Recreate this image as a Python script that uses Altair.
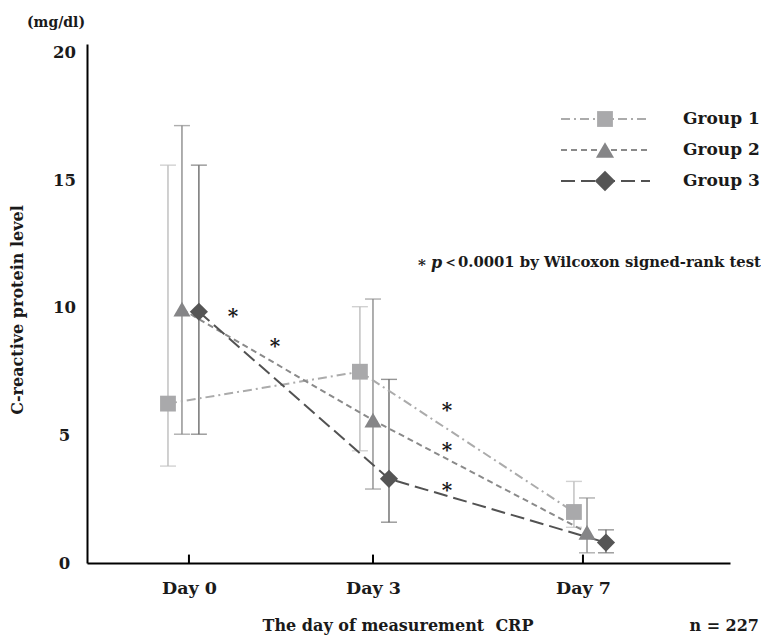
import altair as alt
import pandas as pd

# ---------------- data ----------------
days = ["Day 0", "Day 3", "Day 7"]
day_slot = [0.0, 1.0, 2.141]          # where each day sits on the axis
groups = ["Group 1", "Group 2", "Group 3"]

# dodged x position of each group's marker (in day-slot units)
x_g1 = [-0.114, 0.929, 2.092]
x_g2 = [-0.038, 1.000, 2.163]
x_g3 = [0.054, 1.087, 2.266]

mean_g1 = [6.25, 7.5, 2.0]
mean_g2 = [9.95, 5.6, 1.2]
mean_g3 = [9.85, 3.3, 0.8]

hi_g1 = [15.6, 10.05, 3.2]
hi_g2 = [17.15, 10.35, 2.55]
hi_g3 = [15.6, 7.2, 1.3]

lo_g1 = [3.8, 4.4, 1.4]
lo_g2 = [5.05, 2.9, 0.4]
lo_g3 = [5.05, 1.6, 0.4]

# significance asterisks (x in day-slot units, y in mg/dl)
star_x = [0.239, 0.467, 1.402, 1.402, 1.402]
star_y = [9.8, 8.63, 6.12, 4.55, 2.98]

y_ticks = [0, 5, 10, 15, 20]
n_patients = 227
unit_label = "(mg/dl)"
y_title = "C-reactive protein level"
x_title = "The day of measurement\u00a0 CRP"
note_parts = ["*", "p", "＜0.0001 by Wilcoxon signed-rank test"]

# ---------------- styles ----------------
FONT = "DejaVu Serif"
TXT = "#1a1a1a"
line_colors = ["#ababab", "#8a8a8a", "#525252"]
err_colors = ["#bdbdbd", "#8c8c8c", "#6a6a6a"]
marker_colors = ["#a9a9ab", "#858587", "#555555"]
dashes = [[9, 4, 2, 4], [6, 4], [14, 6]]
shapes = ["square", "triangle-up", "diamond"]
sizes = [250, 330, 420]

rows = []
for g, xs, ms, his, los in zip(groups, [x_g1, x_g2, x_g3], [mean_g1, mean_g2, mean_g3],
                               [hi_g1, hi_g2, hi_g3], [lo_g1, lo_g2, lo_g3]):
    for d, x, m, h, l in zip(days, xs, ms, his, los):
        rows.append({"group": g, "day": d, "x": x, "mean": m, "hi": h, "lo": l})
df = pd.DataFrame(rows)

df_days = pd.DataFrame({"day": days, "x": day_slot, "y0": [0] * 3, "y1": [0.33] * 3})
df_stars = pd.DataFrame({"x": star_x, "y": star_y, "t": ["*"] * len(star_x)})

# label expression for the day axis
expr = "'" + days[-1] + "'"
for i in range(len(days) - 2, -1, -1):
    mid = (day_slot[i] + day_slot[i + 1]) / 2
    expr = f"datum.value < {mid} ? '{days[i]}' : " + expr

x_scale = alt.Scale(domain=[-0.554, 2.94], nice=False, zero=False)
y_scale = alt.Scale(domain=[0, 20.35], nice=False)
x_axis = alt.Axis(values=day_slot, labelExpr=expr, title=None, ticks=False, grid=False,
                  domainColor="black", domainWidth=2, labelFont=FONT, labelFontSize=17.5,
                  labelFontWeight="bold", labelColor=TXT, labelPadding=16)
y_axis = alt.Axis(values=y_ticks, title=None, ticks=False, grid=False, domainColor="black",
                  domainWidth=2, labelFont=FONT, labelFontSize=16.5, labelFontWeight="bold",
                  labelColor=TXT, labelAlign="center", labelBaseline="middle", labelPadding=23)


def X(field="x"):
    return alt.X(f"{field}:Q", scale=x_scale, axis=x_axis)


def Y(field):
    return alt.Y(f"{field}:Q", scale=y_scale, axis=y_axis)


base = alt.Chart(df)

err = base.mark_rule(strokeWidth=1.4).encode(
    x=X(), y=Y("lo"), y2="hi:Q",
    color=alt.Color("group:N", scale=alt.Scale(domain=groups, range=err_colors), legend=None))
cap_hi = base.mark_tick(orient="horizontal", size=16, thickness=1.4).encode(
    x=X(), y=Y("hi"),
    color=alt.Color("group:N", scale=alt.Scale(domain=groups, range=err_colors), legend=None))
cap_lo = base.mark_tick(orient="horizontal", size=16, thickness=1.4).encode(
    x=X(), y=Y("lo"),
    color=alt.Color("group:N", scale=alt.Scale(domain=groups, range=err_colors), legend=None))

lines = base.mark_line(strokeWidth=2, strokeCap="butt").encode(
    x=X(), y=Y("mean"), order="x:Q",
    color=alt.Color("group:N", scale=alt.Scale(domain=groups, range=line_colors), legend=None),
    strokeDash=alt.StrokeDash("group:N", scale=alt.Scale(domain=groups, range=dashes), legend=None))

points = base.mark_point(filled=True, opacity=1, strokeWidth=0).encode(
    x=X(), y=Y("mean"),
    color=alt.Color("group:N", scale=alt.Scale(domain=groups, range=marker_colors), legend=None),
    shape=alt.Shape("group:N", scale=alt.Scale(domain=groups, range=shapes), legend=None),
    size=alt.Size("group:N", scale=alt.Scale(domain=groups, range=sizes), legend=None))

ticks = alt.Chart(df_days).mark_rule(color="black", strokeWidth=2).encode(
    x=X(), y=Y("y0"), y2="y1:Q")

stars = alt.Chart(df_stars).mark_text(font=FONT, fontSize=20, fontWeight="bold", color=TXT,
                                      baseline="middle", dy=4).encode(
    x=X(), y=Y("y"), text="t:N")

# ---------------- legend (custom, top right) ----------------
legend_layers = []
for i, g in enumerate(groups):
    ly = 75 + 31 * i
    ldf = pd.DataFrame({"group": [g]})
    legend_layers.append(alt.Chart(ldf).mark_rule(strokeWidth=2, color=line_colors[i],
                                                  strokeDash=dashes[i], strokeCap="butt").encode(
        x=alt.value(474), x2=alt.value(563), y=alt.value(ly)))
    legend_layers.append(alt.Chart(ldf).mark_point(filled=True, opacity=1, strokeWidth=0,
                                                   shape=shapes[i], size=sizes[i],
                                                   color=marker_colors[i]).encode(
        x=alt.value(518), y=alt.value(ly)))
    legend_layers.append(alt.Chart(ldf).mark_text(font=FONT, fontSize=17, fontWeight="bold",
                                                  color=TXT, align="left", baseline="middle").encode(
        x=alt.value(596), y=alt.value(ly), text="group:N"))

# ---------------- free texts ----------------
one = pd.DataFrame({"k": [0]})


def label(text, x, y, size=16, align="center", angle=None, style="normal"):
    kw = dict(font=FONT, fontSize=size, fontWeight="bold", color=TXT, align=align,
              baseline="middle", fontStyle=style, text=text)
    if angle is not None:
        kw["angle"] = angle
    return alt.Chart(one).mark_text(**kw).encode(x=alt.value(x), y=alt.value(y))


texts = [
    label(unit_label, -31, -21, size=14),
    label(y_title, -69, 266, size=16, angle=270),
    label(x_title, 311, 582, size=16),
    label(f"n = {n_patients}", 672, 582, size=16, align="right"),
    label(note_parts[0], 331, 221, size=15, align="left"),
    label(note_parts[1], 344, 219, size=16, align="left", style="italic"),
    label(note_parts[2], 356, 219, size=14.8, align="left"),
]

chart = alt.layer(err, cap_hi, cap_lo, lines, points, ticks, stars, *legend_layers, *texts).resolve_scale(
    color="independent"
).properties(
    width=643, height=519,
    padding={"left": 79, "top": 36, "right": 31, "bottom": 74},
    autosize=alt.AutoSizeParams(type="none"),
).configure_view(stroke=None)

chart.save("out.html", embed_options={"renderer": "svg", "actions": False})
